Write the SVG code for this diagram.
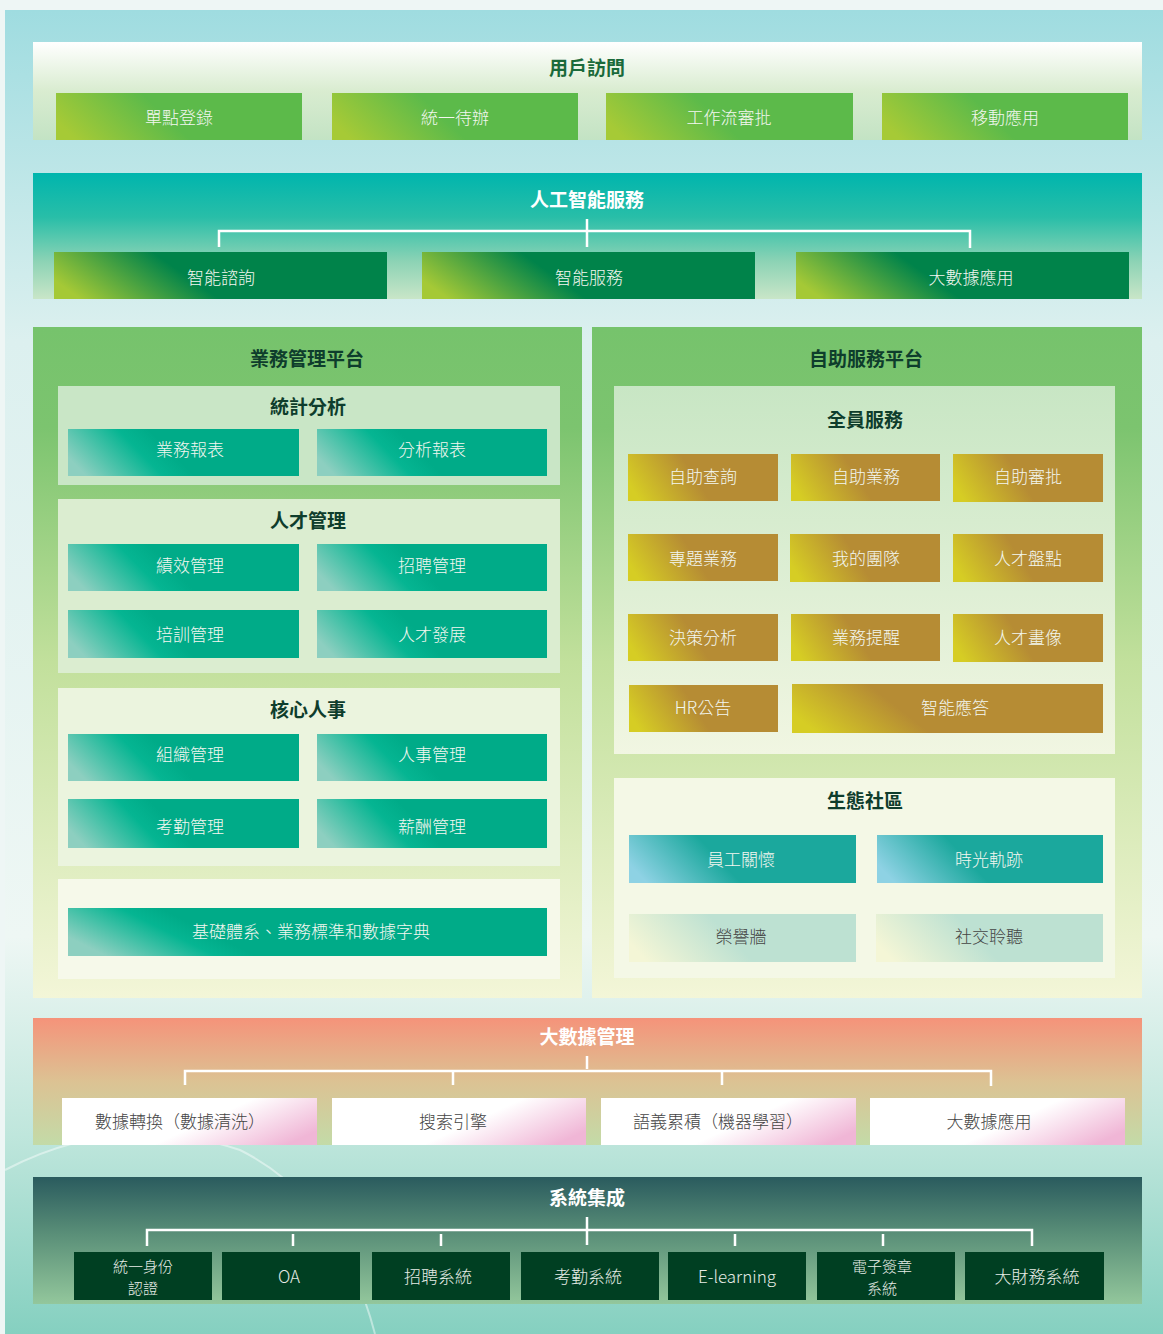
<svg xmlns="http://www.w3.org/2000/svg" width="1163" height="1334" viewBox="0 0 1163 1334">
<defs>
<linearGradient id="bg" x1="0" y1="0" x2="0" y2="1">
<stop offset="0" stop-color="#9fdce0"/><stop offset="0.25" stop-color="#dcf0ef"/><stop offset="0.7" stop-color="#eef7f4"/><stop offset="0.85" stop-color="#bfe6dc"/><stop offset="1" stop-color="#85d0c0"/>
</linearGradient>
<linearGradient id="gUser" x1="0" y1="0" x2="0" y2="1"><stop offset="0" stop-color="#ffffff"/><stop offset="0.5" stop-color="#d9ecd0"/><stop offset="1" stop-color="#c3e3c4"/></linearGradient>
<linearGradient id="gUserBtn" x1="0" y1="0.6" x2="1" y2="0.4"><stop offset="0" stop-color="#a6ca36"/><stop offset="0.45" stop-color="#5cba4a"/><stop offset="1" stop-color="#5cba4a"/></linearGradient>
<linearGradient id="gAI" x1="0" y1="0" x2="0" y2="1"><stop offset="0" stop-color="#00b5ad"/><stop offset="0.35" stop-color="#28bea8"/><stop offset="0.7" stop-color="#8cd3b5"/><stop offset="1" stop-color="#c9e6c8"/></linearGradient>
<linearGradient id="gAIBtn" x1="0" y1="0.6" x2="1" y2="0.4"><stop offset="0" stop-color="#a5c936"/><stop offset="0.4" stop-color="#00834a"/><stop offset="1" stop-color="#00834a"/></linearGradient>
<linearGradient id="gPlat" x1="0" y1="0" x2="0" y2="1"><stop offset="0" stop-color="#76c36c"/><stop offset="0.15" stop-color="#7cc46f"/><stop offset="0.5" stop-color="#c2e09c"/><stop offset="1" stop-color="#f3f6d8"/></linearGradient>
<linearGradient id="gSub" x1="0" y1="0" x2="0" y2="1"><stop offset="0" stop-color="#c8e6c4"/><stop offset="1" stop-color="#f1f6e2"/></linearGradient>
<linearGradient id="gTealBtn" x1="0" y1="0.6" x2="1" y2="0.4"><stop offset="0" stop-color="#8dcfc0"/><stop offset="0.32" stop-color="#05b592"/><stop offset="0.45" stop-color="#00ab88"/><stop offset="1" stop-color="#00ab88"/></linearGradient>
<linearGradient id="gTealWide" x1="0" y1="0.6" x2="1" y2="0.4"><stop offset="0" stop-color="#8dcfc0"/><stop offset="0.22" stop-color="#05b592"/><stop offset="0.3" stop-color="#00ab88"/><stop offset="1" stop-color="#00ab88"/></linearGradient>
<linearGradient id="gGold" x1="0" y1="0.6" x2="1" y2="0.4"><stop offset="0" stop-color="#d6cd24"/><stop offset="0.45" stop-color="#b68c34"/><stop offset="1" stop-color="#b68c34"/></linearGradient>
<linearGradient id="gGoldWide" x1="0" y1="0.6" x2="1" y2="0.4"><stop offset="0" stop-color="#d6cd24"/><stop offset="0.35" stop-color="#b68c34"/><stop offset="1" stop-color="#b68c34"/></linearGradient>
<linearGradient id="gBlue" x1="0" y1="0.6" x2="1" y2="0.4"><stop offset="0" stop-color="#8ed2e4"/><stop offset="0.4" stop-color="#1ba89d"/><stop offset="1" stop-color="#1ba89d"/></linearGradient>
<linearGradient id="gPale" x1="0" y1="0.6" x2="1" y2="0.4"><stop offset="0" stop-color="#f4f6d6"/><stop offset="0.45" stop-color="#bde1d2"/><stop offset="1" stop-color="#bde1d2"/></linearGradient>
<linearGradient id="gBig" x1="0" y1="0" x2="0" y2="1"><stop offset="0" stop-color="#f5937a"/><stop offset="0.5" stop-color="#dcc293"/><stop offset="1" stop-color="#c3dba8"/></linearGradient>
<linearGradient id="gPink" x1="0" y1="0.3" x2="1" y2="0.7"><stop offset="0" stop-color="#ffffff"/><stop offset="0.55" stop-color="#ffffff"/><stop offset="1" stop-color="#f0b6d6"/></linearGradient>
<linearGradient id="gSys" x1="0" y1="0" x2="0" y2="1"><stop offset="0" stop-color="#2a5b5e"/><stop offset="0.45" stop-color="#5a8f78"/><stop offset="1" stop-color="#93c79c"/></linearGradient>
<style>
.t{font-family:"Noto Sans CJK TC","Noto Sans CJK SC",sans-serif;text-anchor:middle;dominant-baseline:central}
.h{font-size:19px;font-weight:bold}
.hw{fill:#ffffff}
.hd{fill:#0e3d2c}
.hg{fill:#1a6a3a}
.b{font-size:17px;fill:#f3f7f0;font-weight:300}
.bd{font-size:17px;fill:#444;font-weight:300}
.bs{font-size:17px;fill:#e6ece6;font-weight:300}
.s2{font-size:15px}
.ln{stroke:#ffffff;stroke-width:2.5;fill:none}
</style>
</defs>
<rect x="0" y="0" width="1163" height="1334" fill="#eef6f5"/>
<rect x="5" y="10" width="1158" height="1324" fill="url(#bg)"/>
<path d="M5 1170 Q 120 1110 240 1150 Q 340 1200 375 1334" fill="none" stroke="#ffffff" stroke-opacity="0.45" stroke-width="2"/>

<g id="user-access">
<rect x="33" y="42" width="1109" height="98" fill="url(#gUser)"/>
<text class="t h hg" x="587" y="66">用戶訪問</text>
</g>
<g id="sso"><rect x="56" y="93" width="246" height="47" fill="url(#gUserBtn)"/><text class="t b" x="179" y="116">單點登錄</text></g>
<g id="todo"><rect x="332" y="93" width="246" height="47" fill="url(#gUserBtn)"/><text class="t b" x="455" y="116">統一待辦</text></g>
<g id="workflow"><rect x="606" y="93" width="247" height="47" fill="url(#gUserBtn)"/><text class="t b" x="729" y="116">工作流審批</text></g>
<g id="mobile"><rect x="882" y="93" width="246" height="47" fill="url(#gUserBtn)"/><text class="t b" x="1005" y="116">移動應用</text></g>

<g id="ai">
<rect x="33" y="173" width="1109" height="126" fill="url(#gAI)"/>
<text class="t h hw" x="587" y="198">人工智能服務</text>
</g>
<g id="ai-consult"><rect x="54" y="252" width="333" height="47" fill="url(#gAIBtn)"/><text class="t b" x="221" y="276">智能諮詢</text></g>
<g id="ai-service"><rect x="422" y="252" width="333" height="47" fill="url(#gAIBtn)"/><text class="t b" x="589" y="276">智能服務</text></g>
<g id="ai-bigdata"><rect x="796" y="252" width="333" height="47" fill="url(#gAIBtn)"/><text class="t b" x="971" y="276">大數據應用</text></g>

<g id="biz-platform">
<rect x="33" y="327" width="549" height="671" fill="url(#gPlat)"/>
<text class="t h hd" x="307" y="357">業務管理平台</text>
<rect x="58" y="386" width="502" height="99" fill="#c9e6c6"/>
<rect x="58" y="499" width="502" height="174" fill="#dbedd0"/>
<rect x="58" y="688" width="502" height="178" fill="#ebf4de"/>
<rect x="58" y="879" width="502" height="100" fill="#f6f9ea"/>
<text class="t h hd" x="308" y="405">統計分析</text>
<text class="t h hd" x="308" y="519">人才管理</text>
<text class="t h hd" x="308" y="708">核心人事</text>
</g>
<g id="biz-report"><rect x="68" y="429" width="231" height="47" fill="url(#gTealBtn)"/><text class="t b" x="190" y="448">業務報表</text></g>
<g id="ana-report"><rect x="317" y="429" width="230" height="47" fill="url(#gTealBtn)"/><text class="t b" x="432" y="448">分析報表</text></g>
<g id="perf"><rect x="68" y="544" width="231" height="47" fill="url(#gTealBtn)"/><text class="t b" x="190" y="564">績效管理</text></g>
<g id="recruit"><rect x="317" y="544" width="230" height="47" fill="url(#gTealBtn)"/><text class="t b" x="432" y="564">招聘管理</text></g>
<g id="train"><rect x="68" y="610" width="231" height="48" fill="url(#gTealBtn)"/><text class="t b" x="190" y="633">培訓管理</text></g>
<g id="talent-dev"><rect x="317" y="610" width="230" height="48" fill="url(#gTealBtn)"/><text class="t b" x="432" y="633">人才發展</text></g>
<g id="org"><rect x="68" y="734" width="231" height="47" fill="url(#gTealBtn)"/><text class="t b" x="190" y="753">組織管理</text></g>
<g id="hr-mgmt"><rect x="317" y="734" width="230" height="47" fill="url(#gTealBtn)"/><text class="t b" x="432" y="753">人事管理</text></g>
<g id="attend"><rect x="68" y="799" width="231" height="49" fill="url(#gTealBtn)"/><text class="t b" x="190" y="825">考勤管理</text></g>
<g id="pay"><rect x="317" y="799" width="230" height="49" fill="url(#gTealBtn)"/><text class="t b" x="432" y="825">薪酬管理</text></g>
<g id="base"><rect x="68" y="908" width="479" height="48" fill="url(#gTealWide)"/><text class="t b" x="311" y="930">基礎體系、業務標準和數據字典</text></g>

<g id="self-platform">
<rect x="592" y="327" width="550" height="671" fill="url(#gPlat)"/>
<text class="t h hd" x="866" y="357">自助服務平台</text>
<rect x="614" y="386" width="501" height="368" fill="url(#gSub)"/>
<rect x="614" y="778" width="501" height="200" fill="#f4f8e6"/>
<text class="t h hd" x="865" y="418">全員服務</text>
<text class="t h hd" x="865" y="799">生態社區</text>
</g>
<g id="s1"><rect x="628" y="454" width="150" height="47" fill="url(#gGold)"/><text class="t b" x="703" y="475">自助查詢</text></g>
<g id="s2"><rect x="791" y="454" width="149" height="47" fill="url(#gGold)"/><text class="t b" x="866" y="475">自助業務</text></g>
<g id="s3"><rect x="953" y="454" width="150" height="48" fill="url(#gGold)"/><text class="t b" x="1028" y="475">自助審批</text></g>
<g id="s4"><rect x="628" y="534" width="150" height="47" fill="url(#gGold)"/><text class="t b" x="703" y="557">專題業務</text></g>
<g id="s5"><rect x="790" y="534" width="150" height="48" fill="url(#gGold)"/><text class="t b" x="866" y="557">我的團隊</text></g>
<g id="s6"><rect x="953" y="534" width="150" height="48" fill="url(#gGold)"/><text class="t b" x="1028" y="557">人才盤點</text></g>
<g id="s7"><rect x="628" y="614" width="150" height="47" fill="url(#gGold)"/><text class="t b" x="703" y="636">決策分析</text></g>
<g id="s8"><rect x="791" y="614" width="149" height="47" fill="url(#gGold)"/><text class="t b" x="866" y="636">業務提醒</text></g>
<g id="s9"><rect x="953" y="614" width="150" height="48" fill="url(#gGold)"/><text class="t b" x="1028" y="636">人才畫像</text></g>
<g id="s10"><rect x="629" y="685" width="149" height="47" fill="url(#gGold)"/><text class="t b" x="703" y="706">HR公告</text></g>
<g id="s11"><rect x="792" y="684" width="311" height="49" fill="url(#gGoldWide)"/><text class="t b" x="955" y="706">智能應答</text></g>
<g id="care"><rect x="629" y="835" width="227" height="48" fill="url(#gBlue)"/><text class="t b" x="741" y="858">員工關懷</text></g>
<g id="trace"><rect x="877" y="835" width="226" height="48" fill="url(#gBlue)"/><text class="t b" x="989" y="858">時光軌跡</text></g>
<g id="honor"><rect x="629" y="914" width="227" height="48" fill="url(#gPale)"/><text class="t bd" x="741" y="935">榮譽牆</text></g>
<g id="social"><rect x="876" y="914" width="227" height="48" fill="url(#gPale)"/><text class="t bd" x="989" y="935">社交聆聽</text></g>

<g id="bigdata">
<rect x="33" y="1018" width="1109" height="127" fill="url(#gBig)"/>
<text class="t h hw" x="587" y="1035">大數據管理</text>
</g>
<g id="bd1"><rect x="62" y="1098" width="255" height="47" fill="url(#gPink)"/><text class="t bd" x="180" y="1120">數據轉換（數據清洗）</text></g>
<g id="bd2"><rect x="332" y="1098" width="254" height="47" fill="url(#gPink)"/><text class="t bd" x="453" y="1120">搜索引擎</text></g>
<g id="bd3"><rect x="601" y="1098" width="255" height="47" fill="url(#gPink)"/><text class="t bd" x="718" y="1120">語義累積（機器學習）</text></g>
<g id="bd4"><rect x="870" y="1098" width="255" height="47" fill="url(#gPink)"/><text class="t bd" x="989" y="1120">大數據應用</text></g>

<g id="sysint">
<rect x="33" y="1177" width="1109" height="127" fill="url(#gSys)"/>
<text class="t h hw" x="587" y="1196">系統集成</text>
</g>
<g id="sys1"><rect x="74" y="1252" width="138" height="48" fill="#003f22"/><text class="t bs s2" x="143" y="1265">統一身份</text><text class="t bs s2" x="143" y="1287">認證</text></g>
<g id="sys2"><rect x="222" y="1252" width="138" height="48" fill="#003f22"/><text class="t bs" x="289" y="1275">OA</text></g>
<g id="sys3"><rect x="372" y="1252" width="138" height="48" fill="#003f22"/><text class="t bs" x="438" y="1275">招聘系統</text></g>
<g id="sys4"><rect x="521" y="1252" width="138" height="48" fill="#003f22"/><text class="t bs" x="588" y="1275">考勤系統</text></g>
<g id="sys5"><rect x="668" y="1252" width="138" height="48" fill="#003f22"/><text class="t bs" x="737" y="1275">E-learning</text></g>
<g id="sys6"><rect x="817" y="1252" width="138" height="48" fill="#003f22"/><text class="t bs s2" x="882" y="1265">電子簽章</text><text class="t bs s2" x="882" y="1287">系統</text></g>
<g id="sys7"><rect x="965" y="1252" width="139" height="48" fill="#003f22"/><text class="t bs" x="1037" y="1275">大財務系統</text></g>

<g id="connectors">
<path class="ln" d="M587 219V247M219 247V231H970V248"/>
<path class="ln" d="M587 1056V1069M185 1085V1071H991V1086M453 1071V1085M722 1071V1085"/>
<path class="ln" d="M587 1217V1245M147 1246V1230H1032V1246M293 1234V1246M441 1234V1246M735 1234V1246M883 1234V1246"/>
</g>
</svg>
